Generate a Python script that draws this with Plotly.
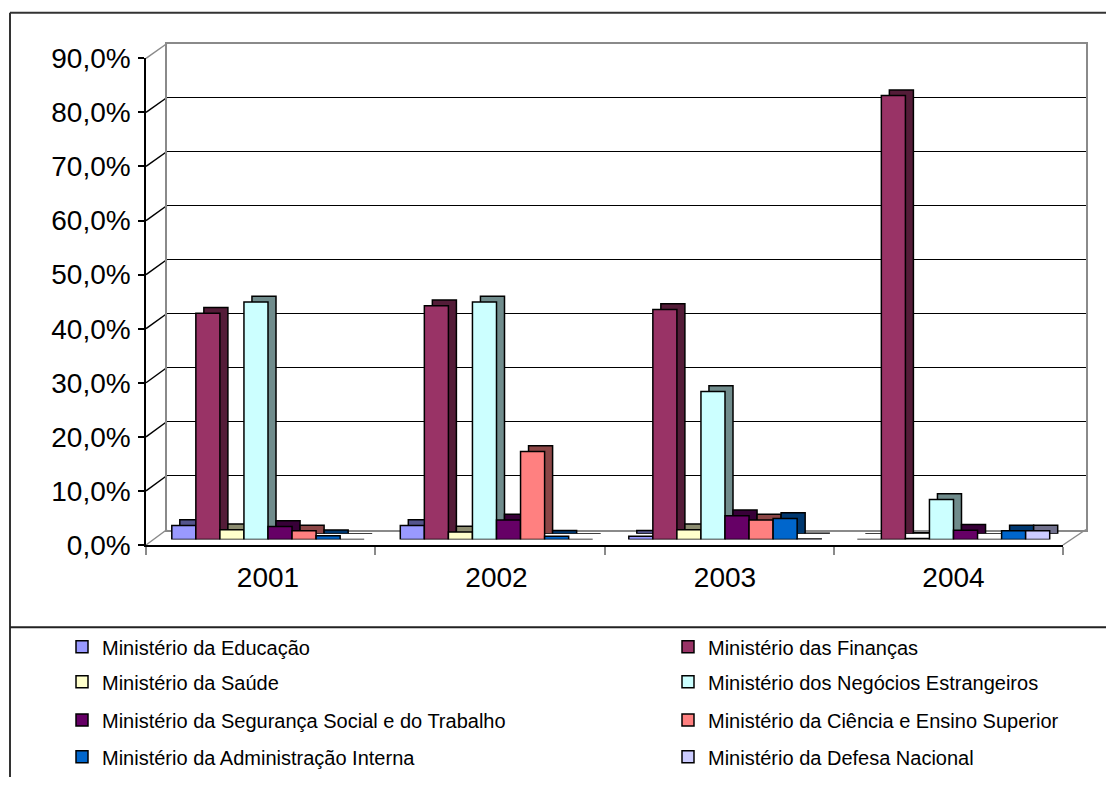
import plotly.graph_objects as go

years = ["2001", "2002", "2003", "2004"]
series_names = [
    "Ministério da Educação",
    "Ministério das Finanças",
    "Ministério da Saúde",
    "Ministério dos Negócios Estrangeiros",
    "Ministério da Segurança Social e do Trabalho",
    "Ministério da Ciência e Ensino Superior",
    "Ministério da Administração Interna",
    "Ministério da Defesa Nacional",
]
educacao = [2.6, 2.6, 0.6, 0.0]
financas = [41.9, 43.3, 42.6, 82.2]
saude = [1.8, 1.4, 1.8, 0.2]
negocios = [44.0, 44.0, 27.4, 7.4]
seguranca = [2.4, 3.6, 4.4, 1.7]
ciencia = [1.6, 16.3, 3.6, 0.0]
adm_interna = [0.7, 0.6, 3.9, 1.6]
defesa = [0.0, 0.0, 0.1, 1.6]
series_values = [educacao, financas, saude, negocios, seguranca, ciencia, adm_interna, defesa]
colors = ["#9999FF", "#993366", "#FFFFCC", "#CCFFFF", "#660066", "#FF8080", "#0066CC", "#CCCCFF"]
y_ticks = [i / 10 for i in range(10)]

# page has an 8px body margin, so the figure is sized to fit the window
OFF = 8
W, H = 1114 - 2 * OFF, 785 - 2 * OFF
FONT = "Liberation Sans, Arial, sans-serif"
DEPTH_X, DEPTH_Y = 8, 5.7  # pseudo-3D depth of the bars, in pixels


def fx(px):
    return (px - OFF) / W


def fy(py):
    return 1 - (py - OFF) / H


def darker(hex_color, f=0.55):
    h = hex_color.lstrip("#")
    r, g, b = (int(h[i:i + 2], 16) for i in (0, 2, 4))
    return "#%02x%02x%02x" % (int(r * f), int(g * f), int(b * f))


fig = go.Figure()

# invisible anchors so the back-wall and front-axis subplots are drawn
fig.add_trace(go.Scatter(x=[None], y=[None], xaxis="x", yaxis="y", showlegend=False,
                         hoverinfo="skip", mode="markers"))
fig.add_trace(go.Scatter(x=[None], y=[None], xaxis="x3", yaxis="y3", showlegend=False,
                         hoverinfo="skip", mode="markers"))

# depth (side/top) faces drawn behind the front faces
for name, vals, col in zip(series_names, series_values, colors):
    fig.add_trace(go.Bar(
        x=years, y=[v / 100 for v in vals], name=name + " (profundidade)",
        marker=dict(color=darker(col), line=dict(color="black", width=1.5)),
        xaxis="x2", yaxis="y2", showlegend=False, hoverinfo="skip",
    ))

legend_ids = ["legend"] + [f"legend{i}" for i in range(2, 9)]
for i, (name, vals, col) in enumerate(zip(series_names, series_values, colors)):
    fig.add_trace(go.Bar(
        x=years, y=[v / 100 for v in vals], name=name,
        marker=dict(color=col, line=dict(color="black", width=1.5)),
        xaxis="x4", yaxis="y4",
        legend=legend_ids[i],
        hovertemplate="%{x}: %{y:.1%}<extra>" + name + "</extra>",
    ))

bar_x0, bar_x1 = 153.75, 1067.75
bar_y0, bar_y1 = 539.5, 53.5
hidden = dict(showgrid=False, zeroline=False, showline=False, showticklabels=False,
              ticks="", automargin=False, fixedrange=True)

fig.update_layout(
    # back wall (subplot 1)
    xaxis=dict(domain=[fx(167), fx(1086)], range=[0, 1], showgrid=False, zeroline=False,
               showline=True, mirror=True, linecolor="#8a8a8a", linewidth=1.5,
               showticklabels=False, ticks="", anchor="y", fixedrange=True, automargin=False),
    yaxis=dict(domain=[fy(529.5), fy(43.5)], range=[0, 0.9], tickvals=y_ticks[1:9],
               showgrid=True, gridcolor="black", gridwidth=1, zeroline=False,
               showline=True, mirror=True, linecolor="#8a8a8a", linewidth=1.5,
               showticklabels=False, ticks="", anchor="x", fixedrange=True, automargin=False),
    # bar depth faces (subplot 2)
    xaxis2=dict(domain=[fx(bar_x0 + DEPTH_X), fx(bar_x1 + DEPTH_X)], type="category",
                anchor="y2", **hidden),
    yaxis2=dict(domain=[fy(bar_y0 - DEPTH_Y), fy(bar_y1 - DEPTH_Y)], range=[0, 0.9],
                anchor="x2", **hidden),
    # front axes (subplot 3)
    xaxis3=dict(domain=[fx(146), fx(1063)], range=[0, 4], tickvals=[0, 1, 2, 3, 4],
                showgrid=False, zeroline=False, showline=True, linecolor="black", linewidth=1.5,
                ticks="outside", ticklen=8, tickcolor="#8a8a8a", tickwidth=1.5,
                showticklabels=False, anchor="y3", fixedrange=True, automargin=False),
    yaxis3=dict(domain=[fy(545), fy(58.3)], range=[0, 0.9], tickvals=y_ticks,
                tickformat=".1%", showgrid=False, zeroline=False, showline=True,
                linecolor="black", linewidth=1.5, ticks="outside", ticklen=6,
                tickcolor="black", tickwidth=1.5, ticklabelstandoff=2,
                tickfont=dict(family=FONT, size=28, color="black"), anchor="x3",
                fixedrange=True, automargin=False),
    # bar front faces (subplot 4)
    xaxis4=dict(domain=[fx(bar_x0), fx(bar_x1)], type="category", showgrid=False,
                zeroline=False, showline=False, ticks="", anchor="y4", automargin=False,
                fixedrange=True,
                tickfont=dict(family=FONT, size=28, color="black"), ticklabelstandoff=18),
    yaxis4=dict(domain=[fy(bar_y0), fy(bar_y1)], range=[0, 0.9], anchor="x4", **hidden),
)

shapes = []
# side wall lines from front axis to back wall
for v in y_ticks:
    yf = 545 - v / 0.9 * 486.7
    yb = 529.5 - v / 0.9 * 486.0
    col = "#8a8a8a" if v in (0.0, 0.9) else "black"
    shapes.append(dict(type="line", xref="paper", yref="paper", x0=fx(146), y0=fy(yf),
                       x1=fx(167), y1=fy(yb), line=dict(color=col, width=1.5), layer="below"))
# right floor edge
shapes.append(dict(type="line", xref="paper", yref="paper", x0=fx(1063), y0=fy(545),
                   x1=fx(1086), y1=fy(529.5), line=dict(color="#8a8a8a", width=1.5)))
# outer frame
shapes.append(dict(type="line", xref="paper", yref="paper", x0=fx(10), y0=fy(12.7),
                   x1=1.02, y1=fy(12.7), line=dict(color="#333333", width=2)))
shapes.append(dict(type="line", xref="paper", yref="paper", x0=fx(10), y0=fy(12.7),
                   x1=fx(10), y1=-0.02, line=dict(color="#333333", width=2)))
shapes.append(dict(type="line", xref="paper", yref="paper", x0=fx(10), y0=fy(627.3),
                   x1=1.02, y1=fy(627.3), line=dict(color="#222222", width=2)))

legend_rows_y = [646.7, 681.7, 720.0, 756.7]
legend_cols_x = [62, 668]
legend_common = dict(orientation="v", xanchor="left", yanchor="middle",
                     bgcolor="rgba(0,0,0,0)", borderwidth=0,
                     font=dict(family=FONT, size=20, color="black"),
                     itemclick=False, itemdoubleclick=False)
legend_layout = {}
for i, lid in enumerate(legend_ids):
    legend_layout[lid] = dict(x=fx(legend_cols_x[i % 2]), y=fy(legend_rows_y[i // 2]),
                              **legend_common)
fig.update_layout(**legend_layout)

fig.update_layout(
    width=W, height=H,
    margin=dict(l=0, r=0, t=0, b=0, autoexpand=False),
    paper_bgcolor="white", plot_bgcolor="rgba(0,0,0,0)",
    barmode="group", bargap=0.158, bargroupgap=0,
    separators=", ",
    showlegend=True,
    shapes=shapes,
    font=dict(family=FONT, color="black"),
)

fig.write_html("out.html")
